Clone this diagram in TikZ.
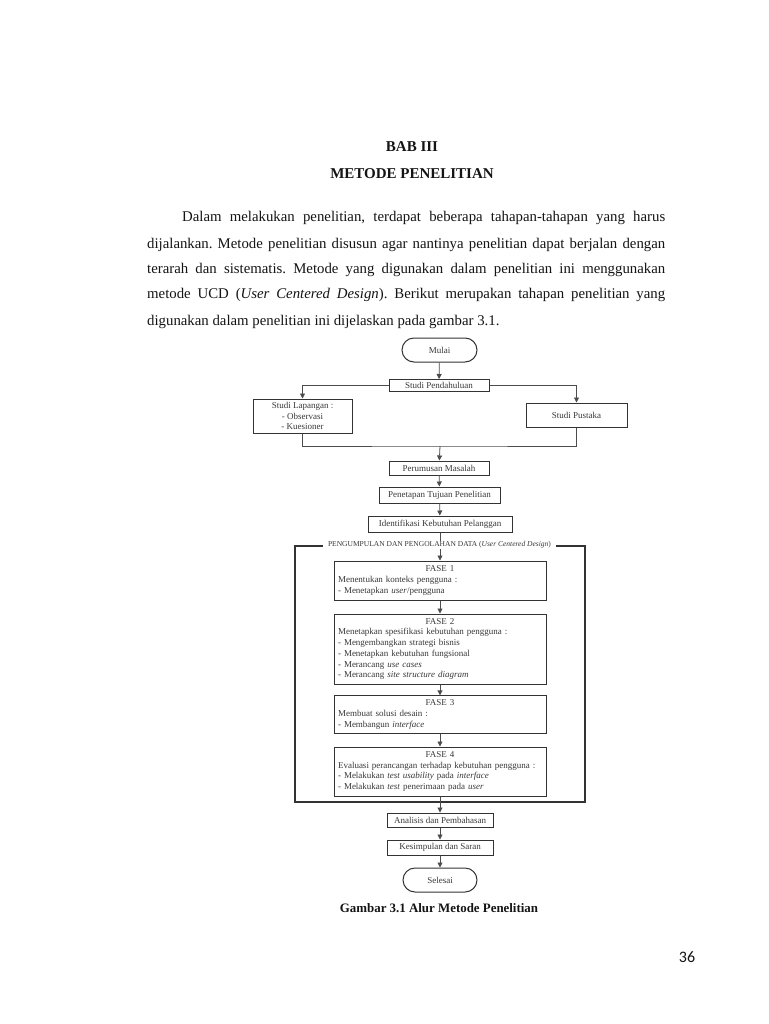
\documentclass[tikz,border=0pt]{standalone}
\usepackage{fontspec}
\setmainfont{Liberation Serif}
\newfontfamily\pagenumfont{Carlito}
\usepackage{tikz}
\usetikzlibrary{arrows.meta}
\frenchspacing

\begin{document}
\begin{tikzpicture}[x=1pt,y=1pt,yscale=-1,xscale=1,
  box/.style={draw=boxgray, line width=1pt, fill=white, inner sep=0pt, text=diaggray,
    font=\fontsize{9}{10.7}\selectfont, align=center},
  term/.style={box, rounded corners=12pt, minimum width=75pt, minimum height=24pt},
  fase/.style={box, text width=204pt, inner sep=4pt, align=left},
  conn/.style={draw=linegray, line width=0.8pt},
  arr/.style={conn, -{Triangle[length=5pt,width=5pt]}},
  bodyline/.style={anchor=west, inner sep=0pt, font=\fontsize{14.8}{17}\selectfont}]

\definecolor{boxgray}{rgb}{0.20, 0.20, 0.20}
\definecolor{diaggray}{rgb}{0.22, 0.22, 0.22}
\definecolor{linegray}{rgb}{0.30, 0.30, 0.30}
\definecolor{pagetext}{rgb}{0.08, 0.08, 0.08}

\useasboundingbox[fill=white] (0,0) rectangle (768,1024);

% judul dan paragraf
\node[font=\fontsize{15}{17}\selectfont\bfseries, text=pagetext] (bab) at (412, 147) {BAB III};
\node[font=\fontsize{15}{17}\selectfont\bfseries, text=pagetext] (judul) at (412, 174) {METODE PENELITIAN};

\node[bodyline, text=pagetext] (p1) at (182, 218) {\makebox[483pt][s]{Dalam melakukan penelitian, terdapat beberapa tahapan-tahapan yang harus}};
\node[bodyline, text=pagetext] (p2) at (147, 245) {\makebox[518pt][s]{dijalankan. Metode penelitian disusun agar nantinya penelitian dapat berjalan dengan}};
\node[bodyline, text=pagetext] (p3) at (147, 270) {\makebox[518pt][s]{terarah dan sistematis. Metode yang digunakan dalam penelitian ini menggunakan}};
\node[bodyline, text=pagetext] (p4) at (147, 295) {\makebox[518pt][s]{metode UCD (\textit{User Centered Design}). Berikut merupakan tahapan penelitian yang}};
\node[bodyline, text=pagetext] (p5) at (147, 322) {digunakan dalam penelitian ini dijelaskan pada gambar 3.1.};

% diagram alur
\node[term] (mulai) at (439.5, 350) {Mulai};
\node[box, minimum width=100pt, minimum height=12pt] (pendahuluan) at (439, 385.5) {Studi Pendahuluan};
\node[box, minimum width=99pt, minimum height=34pt] (lapangan) at (302.5, 416) {Studi Lapangan :\\- Observasi\\- Kuesioner};
\node[box, minimum width=101pt, minimum height=24pt] (pustaka) at (576.5, 415) {Studi Pustaka};
\node[box, minimum width=100pt, minimum height=14pt] (perumusan) at (439, 468) {Perumusan Masalah};
\node[box, minimum width=121pt, minimum height=16pt] (tujuan) at (439.5, 495) {Penetapan Tujuan Penelitian};
\node[box, minimum width=144pt, minimum height=16pt] (identifikasi) at (440, 524) {Identifikasi Kebutuhan Pelanggan};

\draw[boxgray, line width=1.2pt] (295, 546) rectangle (585, 802);

\node[fase, minimum height=39pt] (fase1) at (440, 580.5) {{\centering FASE 1\par}Menentukan konteks pengguna :\\- Menetapkan \textit{user}/pengguna};
\node[fase, minimum height=70pt] (fase2) at (440, 649) {{\centering FASE 2\par}Menetapkan spesifikasi kebutuhan pengguna :\\- Mengembangkan strategi bisnis\\- Menetapkan kebutuhan fungsional\\- Merancang \textit{use cases}\\- Merancang \textit{site structure diagram}};
\node[fase, minimum height=35pt] (fase3) at (440, 714.5) {{\centering FASE 3\par}Membuat solusi desain :\\- Membangun \textit{interface}};
\node[fase, minimum height=49pt] (fase4) at (440, 771.5) {{\centering FASE 4\par}Evaluasi perancangan terhadap kebutuhan pengguna :\\- Melakukan \textit{test usability} pada \textit{interface}\\- Melakukan \textit{test} penerimaan pada \textit{user}};

\node[box, minimum width=106pt, minimum height=14pt] (analisis) at (440, 820) {Analisis dan Pembahasan};
\node[box, minimum width=106pt, minimum height=15pt] (kesimpulan) at (440, 847.5) {Kesimpulan dan Saran};
\node[term, minimum width=74pt] (selesai) at (440, 880) {Selesai};

\coordinate (gabung) at (440, 446);

\draw[arr] (mulai) -- (pendahuluan);
\draw[arr] (pendahuluan.west) -| (lapangan.north);
\draw[arr] (pendahuluan.east) -| (pustaka.north);
\draw[conn] (lapangan.south) |- (gabung) -| (pustaka.south);
\draw[arr] (gabung) -- (perumusan);
\draw[arr] (perumusan) -- (tujuan);
\draw[arr] (tujuan) -- (identifikasi);
\draw[arr] (identifikasi) -- (fase1);
\draw[arr] (fase1) -- (fase2);
\draw[arr] (fase2) -- (fase3);
\draw[arr] (fase3) -- (fase4);
\draw[arr] (fase4) -- (analisis);
\draw[arr] (analisis) -- (kesimpulan);
\draw[arr] (kesimpulan) -- (selesai);

\node[fill=white, inner xsep=5pt, inner ysep=1pt, text=diaggray, font=\fontsize{7.5}{9}\selectfont] (fasetitle) at (439.5, 545)
  {PENGUMPULAN DAN PENGOLAHAN DATA (\textit{User Centered Design})};

\node[font=\fontsize{12.9}{15}\selectfont\bfseries, text=pagetext] (caption) at (439, 908) {Gambar 3.1 Alur Metode Penelitian};

\node[font=\pagenumfont\fontsize{16}{18}\selectfont, text=pagetext] (halaman) at (687, 957) {36};

\end{tikzpicture}
\end{document}
